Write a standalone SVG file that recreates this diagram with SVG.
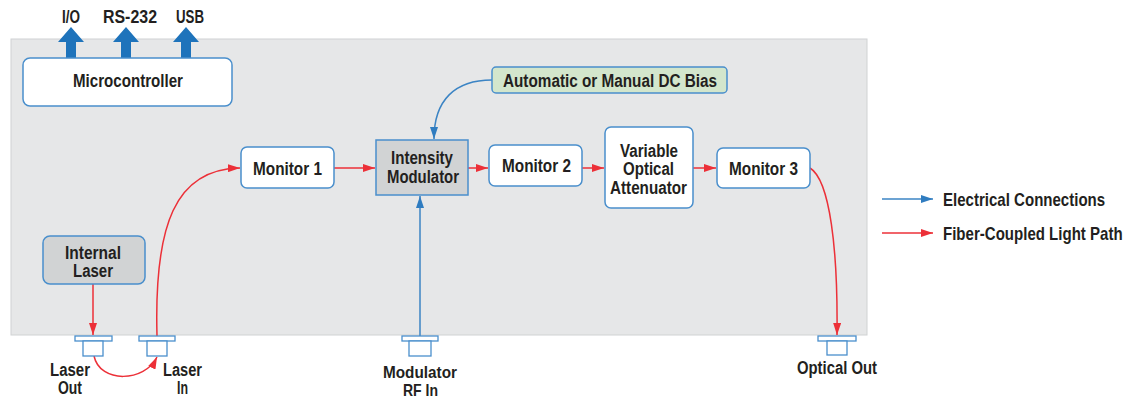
<svg xmlns="http://www.w3.org/2000/svg" width="1134" height="403" viewBox="0 0 1134 403">
<defs>
<style>
.t{font-family:"Liberation Sans",Arial,sans-serif;font-weight:bold;font-size:17.5px;fill:#231f20;text-anchor:middle}
.lg{text-anchor:start}
.sm{font-size:16.5px}
.box{fill:#ffffff;stroke:#4a8fcc;stroke-width:1.5}
.gbox{fill:#d1d3d4;stroke:#4a8fcc;stroke-width:1.5}
.port{fill:#ffffff;stroke:#4a8fcc;stroke-width:1.3}
.red{fill:none;stroke:#ec3038;stroke-width:1.5}
.blue{fill:none;stroke:#3b84c4;stroke-width:1.5}
.big{fill:#1e73bb}
</style>
<marker id="ar" viewBox="0 0 12 8" refX="12" refY="4" markerWidth="12" markerHeight="8" markerUnits="userSpaceOnUse" orient="auto"><path d="M0,0 L12,4 L0,8 Z" fill="#ec3038"/></marker>
<marker id="ab" viewBox="0 0 12 8" refX="12" refY="4" markerWidth="12" markerHeight="8" markerUnits="userSpaceOnUse" orient="auto"><path d="M0,0 L12,4 L0,8 Z" fill="#2f7cc0"/></marker>
</defs>
<rect x="0" y="0" width="1134" height="403" fill="#ffffff"/>
<rect id="chassis" x="11" y="39" width="856" height="296" fill="#e6e7e8" stroke="#d0d2d3" stroke-width="1"/>

<g id="io-arrows">
<path class="big" d="M66,60 L66,42 L58,42 L71,27 L84,42 L76,42 L76,60 Z"/>
<path class="big" d="M121,60 L121,42 L113,42 L126,27 L139,42 L131,42 L131,60 Z"/>
<path class="big" d="M181,60 L181,42 L173,42 L186,27 L199,42 L191,42 L191,60 Z"/>
<text class="t" x="71" y="23" textLength="18" lengthAdjust="spacingAndGlyphs">I/O</text>
<text class="t" x="130" y="23" textLength="54" lengthAdjust="spacingAndGlyphs">RS-232</text>
<text class="t" x="190" y="23" textLength="28" lengthAdjust="spacingAndGlyphs">USB</text>
</g>

<g id="connectors">
<path class="red" d="M93,284 L93,335" marker-end="url(#ar)"/>
<path class="red" d="M94,356 C100,384 145,382 157,357" marker-end="url(#ar)"/>
<path class="red" d="M157,336 C154,225 175,169 240,168" marker-end="url(#ar)"/>
<path class="red" d="M334,168 L375,168" marker-end="url(#ar)"/>
<path class="red" d="M468,168 L488,168" marker-end="url(#ar)"/>
<path class="red" d="M582,168 L604,168" marker-end="url(#ar)"/>
<path class="red" d="M693,168 L716,168" marker-end="url(#ar)"/>
<path class="red" d="M810,168 C830,180 838,250 837,335" marker-end="url(#ar)"/>
<path class="blue" d="M420,336 L420,196" marker-end="url(#ab)"/>
<path class="blue" d="M492,80 C455,80 434,100 434,139" marker-end="url(#ab)"/>
</g>

<g id="microcontroller">
<rect class="box" x="23" y="58" width="209" height="48" rx="7"/>
<text class="t" x="128" y="87" textLength="110" lengthAdjust="spacingAndGlyphs">Microcontroller</text>
</g>

<g id="internal-laser">
<rect class="gbox" x="43" y="236" width="102" height="48" rx="7"/>
<text class="t" x="93" y="259" textLength="56" lengthAdjust="spacingAndGlyphs">Internal</text>
<text class="t" x="93" y="277" textLength="40" lengthAdjust="spacingAndGlyphs">Laser</text>
</g>

<g id="monitor1">
<rect class="box" x="241" y="147" width="93" height="41" rx="6"/>
<text class="t" x="287.5" y="175" textLength="69" lengthAdjust="spacingAndGlyphs">Monitor 1</text>
</g>

<g id="intensity-modulator">
<rect class="gbox" x="376" y="140" width="92" height="55"/>
<text class="t" x="422" y="164" textLength="62" lengthAdjust="spacingAndGlyphs">Intensity</text>
<text class="t" x="423" y="183" textLength="72" lengthAdjust="spacingAndGlyphs">Modulator</text>
</g>

<g id="dc-bias">
<rect x="492" y="67" width="235" height="26" rx="4" fill="#d3e6cc" stroke="#4a8fcc" stroke-width="1.5"/>
<text class="t" x="610" y="87" textLength="214" lengthAdjust="spacingAndGlyphs">Automatic or Manual DC Bias</text>
</g>

<g id="monitor2">
<rect class="box" x="489" y="145" width="93" height="41" rx="6"/>
<text class="t" x="536.5" y="172" textLength="69" lengthAdjust="spacingAndGlyphs">Monitor 2</text>
</g>

<g id="voa">
<rect class="box" x="605" y="127" width="88" height="81" rx="6"/>
<text class="t" x="649" y="157" textLength="58" lengthAdjust="spacingAndGlyphs">Variable</text>
<text class="t" x="648.5" y="175" textLength="51" lengthAdjust="spacingAndGlyphs">Optical</text>
<text class="t" x="648.5" y="194" textLength="77" lengthAdjust="spacingAndGlyphs">Attenuator</text>
</g>

<g id="monitor3">
<rect class="box" x="717" y="148" width="93" height="40" rx="6"/>
<text class="t" x="763.5" y="175" textLength="69" lengthAdjust="spacingAndGlyphs">Monitor 3</text>
</g>

<g id="port-laser-out">
<rect class="port" x="75" y="336" width="37" height="5"/>
<rect class="port" x="83" y="341" width="20" height="15"/>
<text class="t" x="70" y="376" textLength="40" lengthAdjust="spacingAndGlyphs">Laser</text>
<text class="t" x="70" y="394" textLength="24" lengthAdjust="spacingAndGlyphs">Out</text>
</g>

<g id="port-laser-in">
<rect class="port" x="139" y="336" width="36" height="5"/>
<rect class="port" x="147" y="341" width="20" height="15"/>
<text class="t" x="182.5" y="376" textLength="39" lengthAdjust="spacingAndGlyphs">Laser</text>
<text class="t" x="182.5" y="394" textLength="11" lengthAdjust="spacingAndGlyphs">In</text>
</g>

<g id="port-rf-in">
<rect class="port" x="402" y="336" width="36" height="5"/>
<rect class="port" x="409" y="341" width="22" height="15"/>
<text class="t sm" x="420" y="378" textLength="74" lengthAdjust="spacingAndGlyphs">Modulator</text>
<text class="t sm" x="420.5" y="396" textLength="35" lengthAdjust="spacingAndGlyphs">RF In</text>
</g>

<g id="port-optical-out">
<rect class="port" x="818" y="336" width="38" height="5"/>
<rect class="port" x="827" y="341" width="20" height="14"/>
<text class="t" x="837" y="374" textLength="80" lengthAdjust="spacingAndGlyphs">Optical Out</text>
</g>

<g id="legend">
<path class="blue" d="M882,199 L933,199" marker-end="url(#ab)"/>
<text class="t lg" transform="translate(943,206) scale(0.86,1)" x="0" y="0">Electrical Connections</text>
<path class="red" d="M882,233 L933,233" marker-end="url(#ar)"/>
<text class="t lg" transform="translate(943,240) scale(0.86,1)" x="0" y="0">Fiber-Coupled Light Path</text>
</g>
</svg>
